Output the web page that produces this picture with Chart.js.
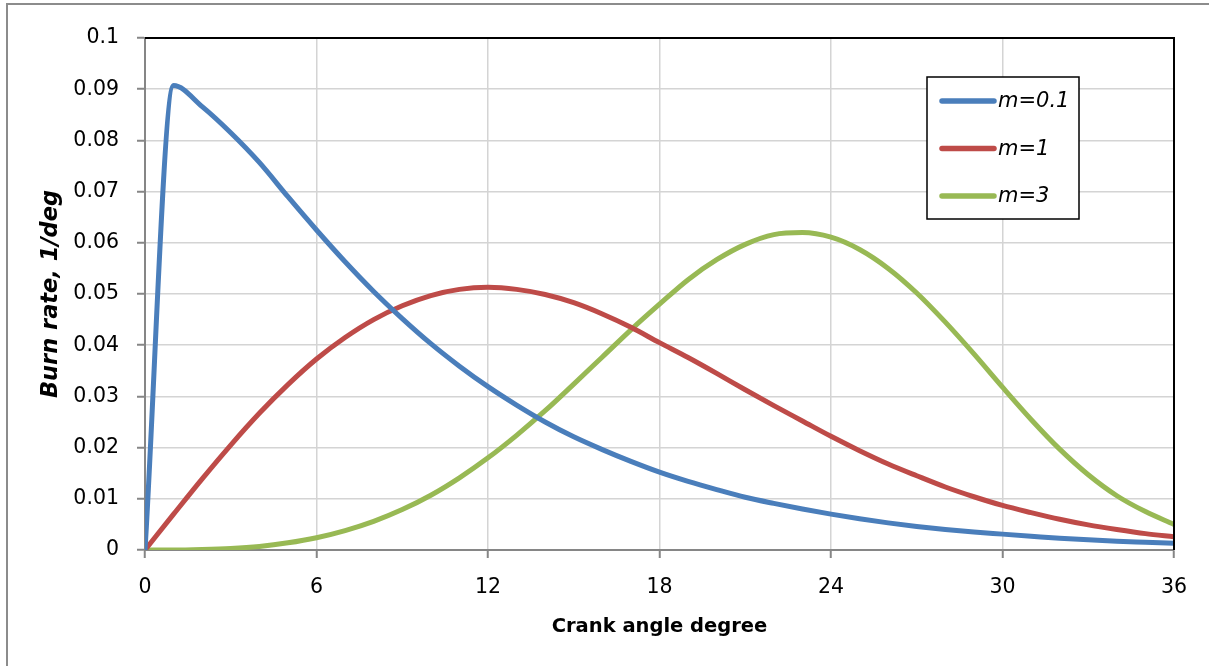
<!DOCTYPE html>
<html>
<head>
<meta charset="utf-8">
<script src="https://cdn.jsdelivr.net/npm/chart.js@4/dist/chart.umd.min.js"></script>
<style>
  html, body { margin: 0; padding: 0; background: #ffffff; }
  #wrap { position: relative; width: 1209px; height: 666px; overflow: hidden; }
  #frame {
    position: absolute; left: 6px; top: 3px; width: 1400px; height: 900px;
    border-left: 2px solid #8c8c8c; border-top: 2px solid #8c8c8c;
  }
  canvas { position: absolute; left: 0; top: 0; }
</style>
</head>
<body>
<div id="wrap">
  <div id="frame"></div>
  <canvas id="chart" width="1209" height="666"></canvas>
</div>
<script>
// Crank angle (deg) at which each burn-rate value is given
const crankAngles = [0, 1, 2, 3, 4, 5, 6, 7, 8, 9, 10, 11, 12, 13, 14, 15, 16, 17, 18,
  19, 20, 21, 22, 23, 24, 25, 26, 27, 28, 29, 30, 31, 32, 33, 34, 35, 36];

// Burn rate, 1/deg, for each Wiebe form factor m
const burnRateM01 = [0, 0.0907, 0.0866, 0.0815, 0.0757, 0.0690, 0.0625, 0.0563, 0.0505,
  0.0452, 0.0403, 0.0359, 0.0319, 0.0283, 0.0250, 0.0221, 0.0196, 0.0173, 0.0152,
  0.0134, 0.0118, 0.0103, 0.0091, 0.0080, 0.0070, 0.0061, 0.0053, 0.0046, 0.0040,
  0.0035, 0.0031, 0.0027, 0.0023, 0.0020, 0.0017, 0.0015, 0.0013];
const burnRateM1 = [0, 0.0070, 0.0139, 0.0205, 0.0267, 0.0323, 0.0373, 0.0415, 0.0450,
  0.0477, 0.0497, 0.0509, 0.0513, 0.0509, 0.0499, 0.0483, 0.0461, 0.0435, 0.0405,
  0.0376, 0.0345, 0.0313, 0.0282, 0.0252, 0.0222, 0.0194, 0.0168, 0.0145, 0.0123,
  0.0104, 0.0087, 0.0073, 0.0060, 0.0049, 0.0040, 0.0032, 0.0026];
const burnRateM3 = [0, 0.0000, 0.0001, 0.0003, 0.0007, 0.0014, 0.0024, 0.0038, 0.0056,
  0.0079, 0.0107, 0.0141, 0.0180, 0.0224, 0.0272, 0.0324, 0.0377, 0.0430, 0.0480,
  0.0528, 0.0567, 0.0597, 0.0616, 0.0620, 0.0611, 0.0587, 0.0550, 0.0502, 0.0445,
  0.0383, 0.0318, 0.0255, 0.0197, 0.0147, 0.0106, 0.0075, 0.0050];

const seriesLabels = ['m=0.1', 'm=1', 'm=3'];
const seriesColors = ['#4a7ebb', '#be4b48', '#98b954'];

const xTickLabels = ['0', '6', '12', '18', '24', '30', '36'];
const yTickLabels = ['0', '0.01', '0.02', '0.03', '0.04', '0.05', '0.06', '0.07', '0.08', '0.09', '0.1'];

const xTitle = 'Crank angle degree';
const yTitle = 'Burn rate, 1/deg';

const toPoints = (vals) => vals.map((v, i) => ({ x: crankAngles[i], y: v }));
const seriesValues = [burnRateM01, burnRateM1, burnRateM3];

// Black top and right edges of the plot area
const plotFrame = {
  id: 'plotFrame',
  afterDatasetsDraw(chart) {
    const { ctx, chartArea: a } = chart;
    ctx.save();
    ctx.strokeStyle = '#000000';
    ctx.lineWidth = 2;
    ctx.beginPath();
    ctx.moveTo(a.left, a.top);
    ctx.lineTo(a.right, a.top);
    ctx.lineTo(a.right, a.bottom);
    ctx.stroke();
    ctx.restore();
  }
};

// Boxed legend inside the upper right of the plot
const boxLegend = {
  id: 'boxLegend',
  afterDraw(chart) {
    const { ctx } = chart;
    const box = { x: 927, y: 77, w: 152, h: 142 };
    ctx.save();
    ctx.fillStyle = '#ffffff';
    ctx.fillRect(box.x, box.y, box.w, box.h);
    ctx.strokeStyle = '#000000';
    ctx.lineWidth = 1.5;
    ctx.strokeRect(box.x, box.y, box.w, box.h);
    ctx.font = 'italic 21px "DejaVu Sans"';
    ctx.textBaseline = 'middle';
    ctx.textAlign = 'left';
    chart.data.datasets.forEach((ds, i) => {
      const y = 101 + i * 47.5;
      ctx.strokeStyle = ds.borderColor;
      ctx.lineWidth = 5.5;
      ctx.lineCap = 'round';
      ctx.beginPath();
      ctx.moveTo(942, y);
      ctx.lineTo(994, y);
      ctx.stroke();
      ctx.fillStyle = '#000000';
      ctx.fillText(ds.label, 998, y + 1);
    });
    ctx.restore();
  }
};

new Chart(document.getElementById('chart'), {
  type: 'line',
  data: {
    datasets: seriesValues.map((vals, i) => ({
      label: seriesLabels[i],
      data: toPoints(vals),
      borderColor: seriesColors[i],
      backgroundColor: seriesColors[i],
      borderWidth: 5,
      pointRadius: 0,
      cubicInterpolationMode: 'monotone',
      fill: false
    }))
  },
  options: {
    responsive: false,
    devicePixelRatio: 1,
    animation: false,
    layout: { padding: { top: 38, right: 35, left: 0, bottom: 0 } },
    plugins: { legend: { display: false }, tooltip: { enabled: false } },
    scales: {
      x: {
        type: 'linear',
        min: 0,
        max: 36,
        afterFit(scale) { scale.height = 116; },
        ticks: {
          stepSize: 6,
          padding: 17,
          color: '#000000',
          font: { family: 'DejaVu Sans', size: 20.5 },
          callback: (v, i) => xTickLabels[i]
        },
        grid: { color: '#d4d4d4', lineWidth: 1.5, tickLength: 8, tickColor: '#868686', tickWidth: 2 },
        border: { color: '#868686', width: 2 },
        title: {
          display: true,
          text: xTitle,
          color: '#000000',
          font: { family: 'DejaVu Sans', size: 19.5, weight: 'bold' },
          padding: { top: 0, bottom: 27 }
        }
      },
      y: {
        type: 'linear',
        min: 0,
        max: 0.1,
        afterFit(scale) { scale.width = 145; },
        ticks: {
          stepSize: 0.01,
          padding: 18,
          color: '#000000',
          font: { family: 'DejaVu Sans', size: 20.5 },
          callback: (v, i) => yTickLabels[i]
        },
        grid: { color: '#d4d4d4', lineWidth: 1.5, tickLength: 8, tickColor: '#868686', tickWidth: 2 },
        border: { color: '#868686', width: 2 },
        title: {
          display: true,
          text: yTitle,
          color: '#000000',
          font: { family: 'DejaVu Sans', size: 22.5, weight: 'bold', style: 'italic' },
          padding: { top: 38, bottom: 0 }
        }
      }
    }
  },
  plugins: [plotFrame, boxLegend]
});
</script>
</body>
</html>
